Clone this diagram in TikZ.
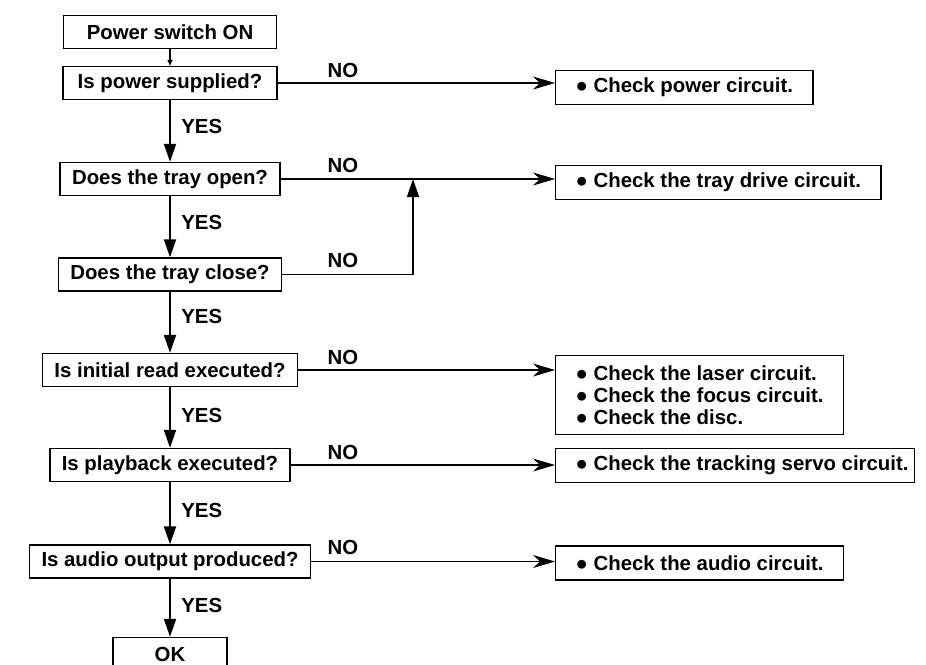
\documentclass[tikz,border=0pt]{standalone}
\usepackage{fontspec}
\setmainfont{Liberation Sans}
\usetikzlibrary{arrows.meta,positioning}

\begin{document}
\begin{tikzpicture}[x=0.02cm, y=-0.02cm,
    font=\fontsize{11.6}{12.8}\selectfont\bfseries,
    ask/.style={draw, line width=0.8pt, inner xsep=0.24cm, inner ysep=0pt, minimum height=0.66cm},
    fix/.style={draw, line width=0.8pt, anchor=west, inner xsep=0.4cm, inner ysep=0pt, minimum height=0.68cm},
    lbl/.style={inner sep=0pt},
    yes/.style={line width=1.1pt, -{Triangle[length=0.36cm, width=0.24cm]}},
    no/.style={line width=0.75pt, -{Stealth[length=0.44cm, width=0.26cm, inset=0.14cm]}}]
    \useasboundingbox (0,0) rectangle (926,664);

    % questions down the left
    \node[ask, minimum width=4.26cm] (q0) at (170,32) {Power switch ON};
    \node[ask, minimum width=4.28cm] (q1) at (170,83) {Is power supplied?};
    \node[ask] (q2) at (170,179) {Does the tray open?};
    \node[ask] (q3) at (170,274.5) {Does the tray close?};
    \node[ask] (q4) at (170,370) {Is initial read executed?};
    \node[ask] (q5) at (170,465) {Is playback executed?};
    \node[ask] (q6) at (170,561.5) {Is audio output produced?};
    \node[ask, minimum width=2.28cm] (q7) at (170,654) {OK};

    % checks on the right
    \node[fix] (c1) at (555,87.5) {● Check power circuit.};
    \node[fix] (c2) at (555,182.5) {● Check the tray drive circuit.};
    \node[fix, anchor=north west, align=left, inner ysep=0.1cm, minimum height=1.58cm] (c3) at (555,355)
        {● Check the laser circuit.\\● Check the focus circuit.\\● Check the disc.};
    \node[fix, inner xsep=0.12cm] (c4) at (555,465.5) {\hspace{0.28cm}● Check the tracking servo circuit.};
    \node[fix] (c5) at (555,563) {● Check the audio circuit.};
    \coordinate (m) at (413,179);

    \draw[line width=0.8pt, -{Triangle[length=0.12cm, width=0.1cm]}] (q0) -- (q1);
    \foreach \a/\b in {q1/q2, q2/q3, q3/q4, q4/q5, q5/q6, q6/q7}
        \draw[yes] (\a) -- (\b);
    \foreach \a/\b in {q1/c1, q2/c2, q4/c3, q5/c4, q6/c5}
        \draw[no] (\a.east) -- (\a.east -| \b.west);
    \draw[line width=0.75pt, -{Triangle[length=0.36cm, width=0.24cm]}] (q3.east) -| (m);

    \foreach \y [count=\i] in {70,165,260,357,452,547}
        \node[lbl] (no\i) at (343,\y) {NO};
    \foreach \y [count=\i] in {126,222,316,415,510,605}
        \node[lbl, anchor=west] (yes\i) at (181,\y) {YES};
\end{tikzpicture}
\end{document}
